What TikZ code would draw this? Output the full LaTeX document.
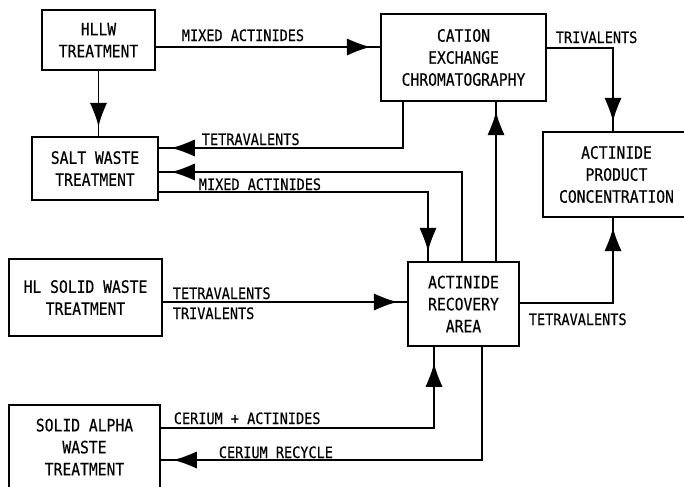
\documentclass[tikz,border=0pt]{standalone}
\usepackage{fontspec}
\setmainfont{DejaVu Sans Mono}[FakeStretch=0.86,FakeBold=0.4]
\usetikzlibrary{decorations.markings}

\begin{document}
\begin{tikzpicture}[x=0.75pt,y=-0.75pt,line width=1.3pt,
  box/.style={draw,align=center,inner sep=0pt,font=\fontsize{12.8}{16.5}\selectfont},
  lbl/.style={anchor=base west,inner sep=0pt,font=\fontsize{11.8}{13}\selectfont},
  flow/.style={postaction={decorate},decoration={markings,
    mark=at position -#1 with {\fill (-24,-8.5) .. controls (-13,-3.5) and (-6,-1.2) .. (0,0)
      .. controls (-6,1.2) and (-13,3.5) .. (-24,8.5) -- cycle;}}},
  flow/.default=7pt]
\clip (0,0) rectangle (684,486);
% process boxes
\node[box,minimum width=84.75pt,minimum height=45pt] (hllw) at (98.5,40) {HLLW\\TREATMENT};
\node[box,minimum width=123.75pt,minimum height=65.25pt] (cation) at (463.5,57.5) {CATION\\EXCHANGE\\CHROMATOGRAPHY};
\node[box,minimum width=94.5pt,minimum height=47.25pt] (salt) at (95,168.5) {SALT WASTE\\TREATMENT};
\node[box,minimum width=110.25pt,minimum height=63.75pt] (product) at (616.5,174.5) {ACTINIDE\\PRODUCT\\CONCENTRATION};
\node[box,minimum width=114.75pt,minimum height=57.75pt] (hlsolid) at (85.5,297.5) {HL SOLID WASTE\\TREATMENT};
\node[box,minimum width=83.25pt,minimum height=63pt] (recovery) at (463.5,304) {ACTINIDE\\RECOVERY\\AREA};
\node[box,minimum width=113.25pt,minimum height=63pt] (alpha) at (84.5,447) {SOLID ALPHA\\WASTE\\TREATMENT};
% bends of the streams
\coordinate (tJ) at (0,47);
\coordinate (tA) at (403,148);
\coordinate (tB) at (462,172);
\coordinate (tC) at (428,192);
\coordinate (tD) at (496,200);
\coordinate (tE) at (613,48);
\coordinate (tF) at (613,303);
\coordinate (tG) at (0,302);
\coordinate (tH) at (434,428);
\coordinate (tI) at (482,460);
% streams
\draw[flow] (hllw.east |- tJ) -- (cation.west |- tJ);
\draw[flow] (hllw.south) -- (hllw.south |- salt.north);
\draw[flow=9pt] (cation.south -| tA) |- (salt.east |- tA);
\draw[flow=9pt] (recovery.north -| tB) |- (salt.east |- tB);
\draw[flow] (salt.east |- tC) -| (recovery.north -| tC);
\draw[flow] (recovery.north -| tD) -- (cation.south -| tD);
\draw[flow] (cation.east |- tE) -| (product.north -| tE);
\draw[flow] (recovery.east |- tF) -| (product.south -| tF);
\draw[flow] (hlsolid.east |- tG) -- (recovery.west |- tG);
\draw[flow=12pt] (alpha.east |- tH) -| (recovery.south -| tH);
\draw[flow=9pt] (recovery.south -| tI) |- (alpha.east |- tI);
% stream labels
\node[lbl] (l1) at (181,41) {MIXED ACTINIDES};
\node[lbl] (l2) at (201,145) {TETRAVALENTS};
\node[lbl] (l3) at (198,190) {MIXED ACTINIDES};
\node[lbl] (l4) at (555,43) {TRIVALENTS};
\node[lbl] (l5) at (528,325) {TETRAVALENTS};
\node[lbl] (l6) at (172,299) {TETRAVALENTS};
\node[lbl] (l7) at (172,319) {TRIVALENTS};
\node[lbl] (l8) at (173,424) {CERIUM + ACTINIDES};
\node[lbl] (l9) at (218,458) {CERIUM RECYCLE};
\end{tikzpicture}
\end{document}
